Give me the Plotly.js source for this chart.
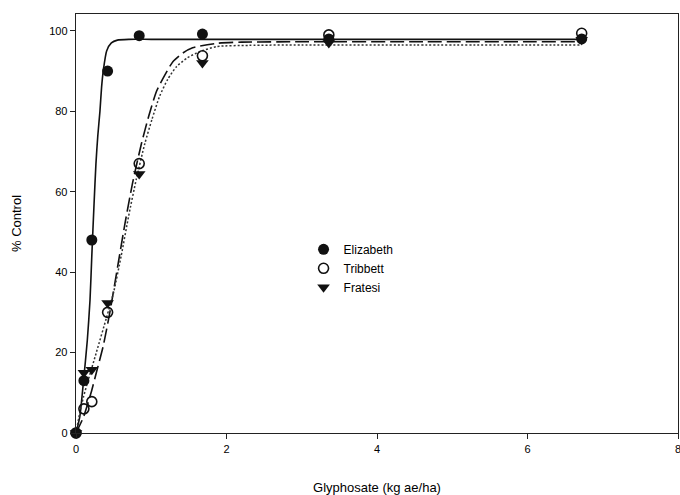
<!DOCTYPE html>
<html>
<head>
<meta charset="utf-8">
<script src="https://cdn.plot.ly/plotly-3.0.1.min.js"></script>
<style>html,body{margin:0;padding:0;background:#fff;}#chart{width:680px;height:495px;}</style>
</head>
<body>
<div id="chart"></div>
<script>
// Observed data
var doses = [0, 0.105, 0.21, 0.42, 0.84, 1.68, 3.36, 6.72];
var elizabeth = [0, 13, 48, 90, 98.8, 99.2, 98, 98];
var tribbett = [0, 6, 7.8, 30, 67, 93.8, 99, 99.4];
var fratesi = [0, 15, 15.7, 32.3, 64.4, 92, 97, 97.8];

// Fitted curves
var elizFitX = [0, 0.05, 0.1, 0.15, 0.186, 0.21, 0.24, 0.265, 0.29, 0.318, 0.34, 0.362, 0.407, 0.47, 0.55, 0.7, 1.0, 2.0, 4.0, 6.72];
var elizFitY = [0, 4, 13, 23, 33, 44, 57, 67, 74, 80, 86, 90, 95, 97, 97.7, 97.9, 97.9, 97.9, 97.9, 97.9];
var tribFitX = [0, 0.1, 0.2, 0.27, 0.36, 0.45, 0.55, 0.65, 0.75, 0.87, 0.97, 1.07, 1.18, 1.29, 1.42, 1.55, 1.87, 2.2, 3.0, 4.5, 6.72];
var tribFitY = [0, 4, 10, 15, 21.5, 30, 41, 52, 62, 72, 79, 85, 89, 92.4, 94.5, 95.8, 96.9, 97.2, 97.3, 97.3, 97.3];
var fratFitX = [0, 0.05, 0.1, 0.16, 0.27, 0.41, 0.5, 0.6, 0.7, 0.8, 0.915, 1.01, 1.11, 1.22, 1.335, 1.48, 1.64, 1.87, 2.3, 3.0, 4.5, 6.72];
var fratFitY = [0, 5, 9, 13, 20, 29, 35, 44, 54, 63, 72, 78, 83.7, 88, 91.1, 93.3, 94.8, 96.1, 96.4, 96.5, 96.5, 96.5];

var seriesNames = ['Elizabeth', 'Tribbett', 'Fratesi'];

var traces = [
  {x: elizFitX, y: elizFitY, mode: 'lines', line: {color: '#111', width: 1.6, shape: 'spline', smoothing: 0.6}, showlegend: false, hoverinfo: 'skip'},
  {x: tribFitX, y: tribFitY, mode: 'lines', line: {color: '#111', width: 1.6, dash: '14px,5px', shape: 'spline', smoothing: 0.6}, showlegend: false, hoverinfo: 'skip'},
  {x: fratFitX, y: fratFitY, mode: 'lines', line: {color: '#333', width: 1.5, dash: '2px,2px', shape: 'spline', smoothing: 0.6}, showlegend: false, hoverinfo: 'skip'},
  {x: doses, y: elizabeth, name: seriesNames[0], mode: 'markers', marker: {symbol: 'circle', size: 11, color: '#111', line: {width: 0}}, cliponaxis: false},
  {x: doses, y: tribbett, name: seriesNames[1], mode: 'markers', marker: {symbol: 'circle-open', size: 10, color: '#111', line: {width: 1.6}}, cliponaxis: false},
  {x: doses, y: fratesi, name: seriesNames[2], mode: 'markers', marker: {symbol: 'triangle-down', size: 11, color: '#111', line: {width: 0}}, cliponaxis: false}
];

var layout = {
  width: 680, height: 495,
  margin: {l: 76, r: 2, t: 14, b: 62},
  paper_bgcolor: '#fff', plot_bgcolor: '#fff',
  font: {family: 'Liberation Sans, Arial, sans-serif', color: '#000', size: 11},
  showlegend: true,
  legend: {x: 0.378, y: 0.473, xanchor: 'left', yanchor: 'top', bgcolor: 'rgba(0,0,0,0)', borderwidth: 0, font: {size: 12, color: '#000'}, tracegroupgap: 0, itemwidth: 30},
  xaxis: {
    range: [0, 8], tickvals: [0, 2, 4, 6, 8], ticktext: ['0', '2', '4', '6', '8'],
    ticklabeloverflow: 'allow',
    showgrid: false, zeroline: false, showline: true, linecolor: '#222', linewidth: 1.3, mirror: true,
    ticks: 'outside', ticklen: 5, tickcolor: '#222', tickwidth: 1,
    title: {text: 'Glyphosate (kg ae/ha)', font: {size: 13, color: '#000'}, standoff: 29}
  },
  yaxis: {
    range: [0, 104.2], tickvals: [0, 20, 40, 60, 80, 100],
    showgrid: false, zeroline: false, showline: true, linecolor: '#222', linewidth: 1.3, mirror: true,
    ticks: 'outside', ticklen: 5, tickcolor: '#222', tickwidth: 1,
    title: {text: '% Control', font: {size: 13, color: '#000'}, standoff: 24}
  }
};

Plotly.newPlot('chart', traces, layout, {displayModeBar: false, staticPlot: true});
</script>
</body>
</html>
